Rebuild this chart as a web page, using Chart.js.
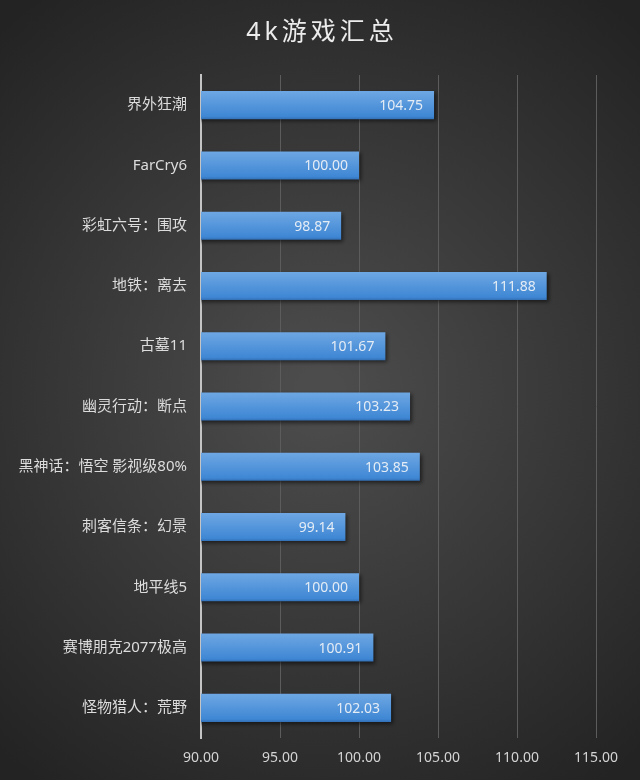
<!DOCTYPE html>
<html>
<head>
<meta charset="utf-8">
<script src="https://cdn.jsdelivr.net/npm/chart.js@4/dist/chart.umd.min.js"></script>
<style>
  html, body { margin: 0; padding: 0; background: #2a2a2a; }
  #wrap { width: 640px; height: 780px; position: relative; }
</style>
</head>
<body>
<div id="wrap"><canvas id="chartGames"></canvas></div>
<script>
const titleText = '4k游戏汇总';
const games = ['界外狂潮', 'FarCry6', '彩虹六号：围攻', '地铁：离去', '古墓11', '幽灵行动：断点',
    '黑神话：悟空 影视级80%', '刺客信条：幻景', '地平线5', '赛博朋克2077极高', '怪物猎人：荒野'];
const scores = [104.75, 100.00, 98.87, 111.88, 101.67, 103.23, 103.85, 99.14, 100.00, 100.91, 102.03];
const axisMin = 90;
const axisMax = 115;
const axisStep = 5;

const fontFamily = "'Noto Sans', 'Noto Sans CJK SC', sans-serif";

// dark radial background + title
const backdrop = {
    id: 'backdrop',
    beforeDraw(chart) {
        const c = chart.ctx;
        const w = chart.width, h = chart.height;
        const g = c.createRadialGradient(w * 0.5, h * 0.5, 20, w * 0.5, h * 0.5, h * 0.62);
        g.addColorStop(0, '#4c4c4c');
        g.addColorStop(1, '#232323');
        c.save();
        c.fillStyle = g;
        c.fillRect(0, 0, w, h);
        c.restore();
    },
    afterDraw(chart) {
        const c = chart.ctx;
        c.save();
        c.font = "25px " + fontFamily;
        c.letterSpacing = '4px';
        c.fillStyle = '#ececec';
        c.textAlign = 'center';
        c.textBaseline = 'middle';
        c.fillText(titleText, chart.width / 2 + 2, 33);
        c.restore();
    }
};

// shadow under bars
const barShadow = {
    id: 'barShadow',
    beforeDatasetsDraw(chart) {
        const c = chart.ctx;
        c.save();
        c.shadowColor = 'rgba(0,0,0,0.55)';
        c.shadowBlur = 4;
        c.shadowOffsetX = 2;
        c.shadowOffsetY = 2;
    },
    afterDatasetsDraw(chart) {
        chart.ctx.restore();
    }
};

// value labels at the inside end of each bar
const valueLabels = {
    id: 'valueLabels',
    afterDatasetsDraw(chart) {
        const c = chart.ctx;
        const meta = chart.getDatasetMeta(0);
        c.save();
        c.font = "14px " + fontFamily;
        c.fillStyle = '#e4ecf5';
        c.textAlign = 'right';
        c.textBaseline = 'middle';
        meta.data.forEach((bar, i) => {
            c.fillText(scores[i].toFixed(2), bar.x - 11, bar.y + 1);
        });
        c.restore();
    }
};

function barFill(context) {
    const chart = context.chart;
    const y = chart.scales && chart.scales.y;
    if (!y || !chart.chartArea) return '#4a8fd8';
    const cy = y.getPixelForValue(context.dataIndex);
    const g = chart.ctx.createLinearGradient(0, cy - 14, 0, cy + 14);
    g.addColorStop(0, '#6ea7e3');
    g.addColorStop(0.9, '#3f87d4');
    g.addColorStop(1, '#3370b6');
    return g;
}

const ctxGames = document.getElementById('chartGames').getContext('2d');
const chartGames = new Chart(ctxGames, {
    type: 'bar',
    data: {
        labels: games,
        datasets: [{
            label: '',
            data: scores,
            backgroundColor: barFill,
            borderWidth: 0,
            categoryPercentage: 1,
            barPercentage: 0.465
        }]
    },
    options: {
        indexAxis: 'y',
        responsive: true,
        maintainAspectRatio: false,
        animation: false,
        layout: { padding: { top: 75, right: 44, left: 0, bottom: 0 } },
        plugins: {
            legend: { display: false },
            title: { display: false },
            tooltip: { enabled: false }
        },
        scales: {
            x: {
                min: axisMin,
                max: axisMax,
                ticks: {
                    stepSize: axisStep,
                    padding: 12,
                    color: '#d4d4d4',
                    font: { family: fontFamily, size: 14 },
                    callback: v => Number(v).toFixed(2)
                },
                grid: { color: '#5c5c5c', lineWidth: 1, drawTicks: false },
                border: { display: false },
                afterFit(scale) { scale.height = 42; }
            },
            y: {
                ticks: {
                    padding: 14,
                    color: '#dcdcdc',
                    font: { family: fontFamily, size: 15 }
                },
                grid: { display: false, drawTicks: false },
                border: { display: true, color: '#c4c4c4', width: 2 },
                afterFit(scale) { scale.width = 201; }
            }
        }
    },
    plugins: [backdrop, barShadow, valueLabels]
});
</script>
</body>
</html>
